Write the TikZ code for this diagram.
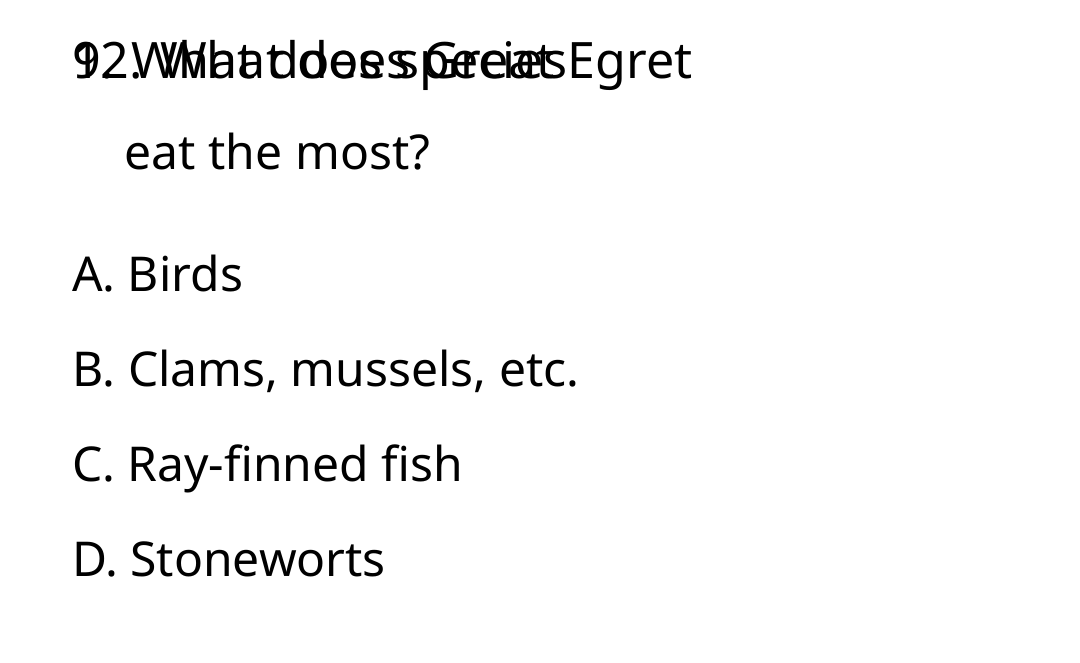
\documentclass[tikz,border=0pt]{standalone}
\usepackage{fontspec}
\setmainfont{Noto Sans}
\begin{document}
\begin{tikzpicture}[x=1pt,y=1pt,
  txt/.style={anchor=base west,inner sep=0pt,outer sep=0pt,font=\fontsize{48}{58}\selectfont,text=black},
  bigtxt/.style={txt,font=\fontsize{50.2}{60}\selectfont}]
\useasboundingbox[fill=white] (0,0) rectangle (1080,663);
\node[bigtxt] (qa) at (72,663-79) {9. What does species};
\node[bigtxt] (qb) at (72,663-79) {12. What does Great Egret};
\node[txt] (qc) at (124.8,663-170) {eat the most?};
\node[txt] (oa) at (72,663-292) {A. Birds};
\node[txt] (ob) at (72,663-387) {B. Clams, mussels, etc.};
\node[txt] (oc) at (72,663-482) {C. Ray-finned fish};
\node[txt] (od) at (72,663-577) {D. Stoneworts};
\end{tikzpicture}
\end{document}
